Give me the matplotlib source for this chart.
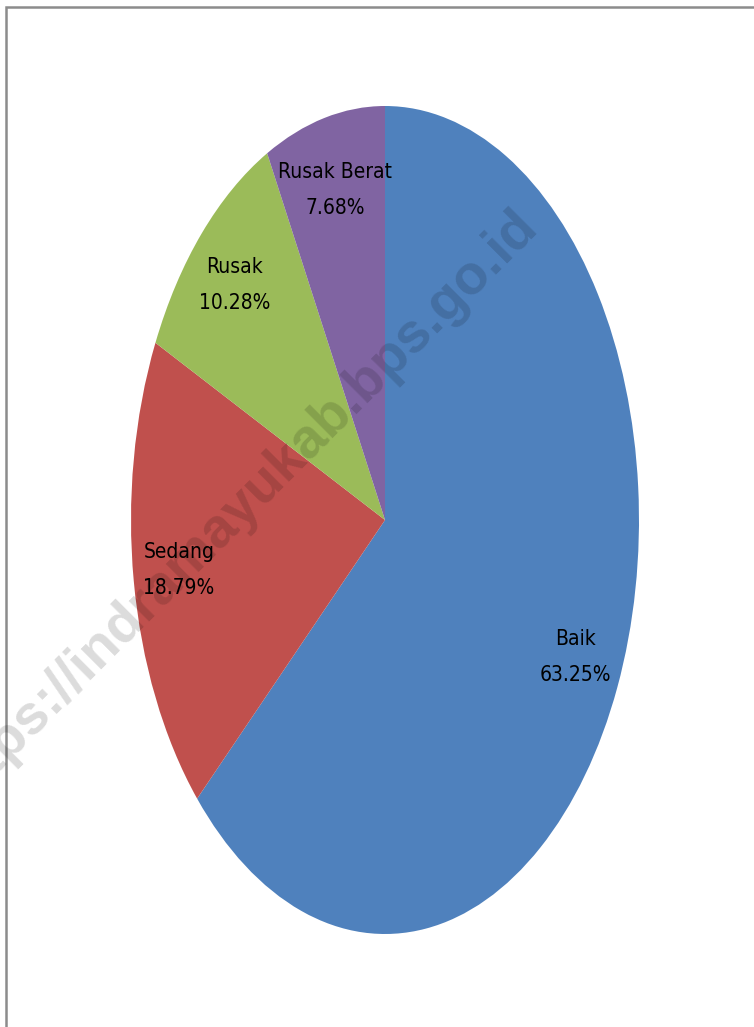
import matplotlib
matplotlib.use("Agg")
import matplotlib.pyplot as plt
import numpy as np
from matplotlib.patches import Rectangle

# data
categories = ["Baik", "Sedang", "Rusak", "Rusak Berat"]
shares = [63.25, 18.79, 10.28, 7.68]
colors = ["#4F81BD", "#C0504D", "#9BBB59", "#8064A2"]

W, H = 754, 1027
fig = plt.figure(figsize=(W / 100, H / 100), dpi=100)

# stretched pie: centre (385, 520), radii 254 x 414 px
cx, cy, rx, ry = 385, 520, 254, 414
ax = fig.add_axes([(cx - rx) / W, (H - cy - ry) / H, 2 * rx / W, 2 * ry / H])

wedges, _, autotexts = ax.pie(shares, colors=colors, startangle=90, counterclock=False,
                              autopct="%1.2f%%", pctdistance=0.82,
                              wedgeprops=dict(linewidth=0))
ax.set_aspect("auto")
ax.set_xlim(-1, 1)
ax.set_ylim(-1, 1)
ax.axis("off")

for t, cat, val in zip(autotexts, categories, shares):
    t.set_text(f"{cat}\n{val:.2f}%")
    t.set_family("DejaVu Sans")
    t.set_fontstretch("condensed")
    t.set_fontsize(15)
    t.set_color("black")
    t.set_linespacing(2.0)

# chart frame (only top and left edges visible)
fig.add_artist(Rectangle((6 / W, -0.1), 2, (H - 7) / H + 0.1, transform=fig.transFigure,
                         fill=False, edgecolor="#8c8c8c", linewidth=1.8))

# watermark
fig.text(238 / W, 1 - 510 / H, "https://indramayukab.bps.go.id", rotation=45,
         rotation_mode="anchor", ha="center", va="center", fontsize=40,
         fontweight="bold", family="Liberation Sans", color="black", alpha=0.14)

fig.savefig("out.png", dpi=100)
